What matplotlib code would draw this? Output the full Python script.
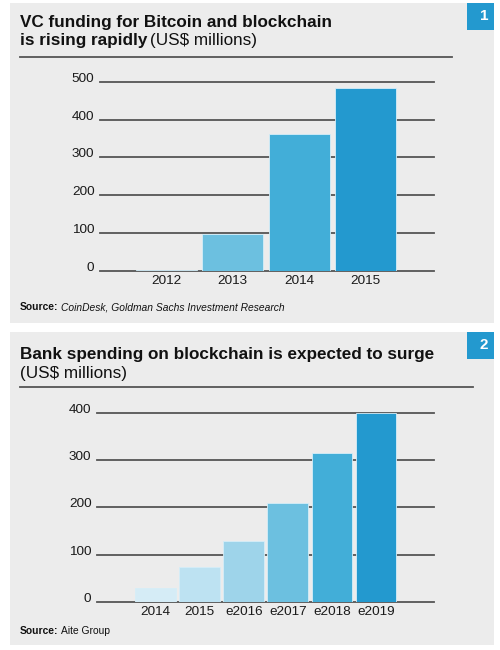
import matplotlib.pyplot as plt
from matplotlib.patches import Rectangle
from matplotlib.lines import Line2D

plt.rcParams['font.family'] = ['Liberation Sans', 'DejaVu Sans']

# chart 1: VC funding
vc_years = ['2012', '2013', '2014', '2015']
vc_values = [3, 98, 362, 484]
vc_colors = ['#9fd5ea', '#6cc0e0', '#42aed8', '#2399cf']

# chart 2: bank spending
bank_years = ['2014', '2015', 'e2016', 'e2017', 'e2018', 'e2019']
bank_values = [30, 74, 129, 209, 315, 400]
bank_colors = ['#d5ecf6', '#bde2f2', '#9ed4ea', '#6cc0e0', '#42aed8', '#2399cf']

W, H = 500, 650
fig = plt.figure(figsize=(5, 6.5), dpi=100)
fig.patch.set_facecolor('white')


def fx(px):
    return px / W


def fy(py):
    return 1 - py / H


def panel(top, bottom, badge):
    fig.patches.append(Rectangle((fx(10), fy(bottom)), fx(494 - 10), (bottom - top) / H,
                                 transform=fig.transFigure, facecolor='#ececec',
                                 edgecolor='none', zorder=-5))
    fig.patches.append(Rectangle((fx(467), fy(top + 27)), fx(27), 27 / H,
                                 transform=fig.transFigure, facecolor='#2399cf',
                                 edgecolor='none', zorder=-4))
    fig.text(fx(484), fy(top + 13), badge, color='white', fontsize=11,
             fontweight='bold', ha='center', va='center')


def title_line(y, x1):
    fig.lines.append(Line2D([fx(20), fx(x1)], [fy(y), fy(y)], transform=fig.transFigure,
                            color='#555555', lw=1.3))


def bar_chart(left, right, y0, ytop, ymax, xlim, years, values, colors, ticks):
    ax = fig.add_axes([fx(left), fy(y0), (right - left) / W, (y0 - ytop) / H])
    ax.set_facecolor('none')
    ax.set_ylim(0, ymax)
    ax.set_xlim(*xlim)
    for t in ticks:
        ax.axhline(t, color='#555555', lw=1.3, zorder=1, clip_on=False)
    x = range(len(years))
    ax.bar(x, values, width=0.92, color=colors, edgecolor='#d6eef8', linewidth=0.6, zorder=2)
    ax.set_yticks(ticks)
    ax.set_yticklabels([str(t) for t in ticks])
    for lab in ax.get_yticklabels():
        lab.set_va('baseline')
    ax.set_xticks(list(x))
    ax.set_xticklabels(years)
    ax.tick_params(axis='both', length=0, labelsize=9.7, colors='#1a1a1a')
    ax.tick_params(axis='y', pad=4)
    ax.tick_params(axis='x', pad=3)
    for s in ax.spines.values():
        s.set_visible(False)
    return ax


def two_part(x, y, bold, regular, size, regular_style='normal', gap=3):
    t = fig.text(fx(x), fy(y), bold, fontsize=size, fontweight='bold', va='baseline',
                 color='#111111')
    r = fig.canvas.get_renderer()
    bb = t.get_window_extent(renderer=r)
    fig.text(bb.x1 / fig.bbox.width + gap / W, fy(y), regular, fontsize=size,
             style=regular_style, va='baseline', color='#111111')


# ---- panel 1 ----
panel(3, 323, '1')
fig.text(fx(20), fy(23), 'VC funding for Bitcoin and blockchain', fontsize=12.3,
         fontweight='bold', va='center', color='#111111')
two_part(20, 45, 'is rising rapidly', '(US$ millions)', 12.3)
title_line(57, 452)
bar_chart(100, 434, 271, 78, 510, (-1.0, 4.03), vc_years, vc_values, vc_colors,
          [0, 100, 200, 300, 400, 500])
two_part(20, 310, 'Source:', 'CoinDesk, Goldman Sachs Investment Research', 7.4,
         regular_style='italic', gap=2)

# ---- panel 2 ----
panel(332, 645, '2')
fig.text(fx(20), fy(355), 'Bank spending on blockchain is expected to surge', fontsize=12.3,
         fontweight='bold', va='center', color='#111111')
fig.text(fx(20), fy(373), '(US$ millions)', fontsize=12.3, va='center', color='#111111')
title_line(387, 473)
bar_chart(97, 434, 602, 408, 410, (-1.33, 6.32), bank_years, bank_values, bank_colors,
          [0, 100, 200, 300, 400])
two_part(20, 634, 'Source:', 'Aite Group', 7.4, gap=2)

fig.savefig('out.png', dpi=100, facecolor='white')
